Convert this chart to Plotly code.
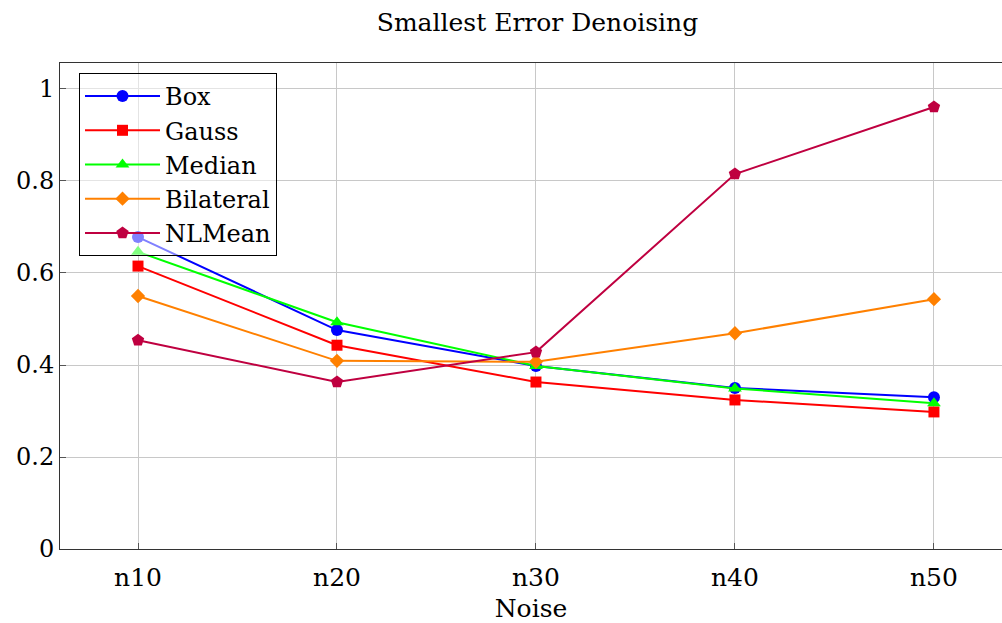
import plotly.graph_objects as go

categories = ["n10", "n20", "n30", "n40", "n50"]
box = [0.678, 0.476, 0.398, 0.350, 0.330]
gauss = [0.615, 0.443, 0.363, 0.324, 0.298]
median = [0.646, 0.493, 0.398, 0.349, 0.317]
bilateral = [0.550, 0.409, 0.407, 0.469, 0.543]
nlmean = [0.454, 0.363, 0.428, 0.815, 0.961]
y_ticks = [0, 0.2, 0.4, 0.6, 0.8, 1]
y_ticklabels = ["0", "0.2", "0.4", "0.6", "0.8", "1"]

FONT = "DejaVu Serif"

series = [
    ("Box", box, "#0000ff", "circle", 12),
    ("Gauss", gauss, "#ff0000", "square", 11),
    ("Median", median, "#00ff00", "triangle-up", 12),
    ("Bilateral", bilateral, "#ff8000", "diamond", 11),
    ("NLMean", nlmean, "#bf0040", "pentagon", 13),
]

fig = go.Figure()
for i, (name, vals, color, sym, sz) in enumerate(series):
    fig.add_trace(go.Scatter(
        x=categories, y=vals, name=name, mode="lines+markers",
        line=dict(color=color, width=2),
        marker=dict(symbol=sym, size=sz, color=color, line=dict(width=0)),
        legendgroup=f"g{i}",
    ))

fig.update_layout(
    width=1002, height=623,
    margin=dict(l=60, r=0, t=63, b=74),
    paper_bgcolor="white", plot_bgcolor="white",
    font=dict(family=FONT, size=24, color="black"),
    title=dict(text="Smallest Error Denoising", x=0.5364, xanchor="center",
               y=1 - 22 / 623, yanchor="middle", font=dict(family=FONT, size=25)),
    legend=dict(
        x=(79 - 60) / 942, y=1 - (73 - 63) / 486, xanchor="left", yanchor="top",
        bgcolor="rgba(255,255,255,0.5)", bordercolor="black", borderwidth=1,
        font=dict(family=FONT, size=24), tracegroupgap=0, itemwidth=75,
    ),
    showlegend=True,
)
fig.update_xaxes(
    type="category", categoryorder="array", categoryarray=categories,
    range=[-0.392, 4.342],
    showgrid=True, gridcolor="#c8c8c8", gridwidth=1,
    showline=True, linecolor="#333333", linewidth=1, mirror=True,
    ticks="inside", ticklen=6, tickcolor="#555555",
    ticklabelstandoff=6,
    tickfont=dict(family=FONT, size=25),
    title=dict(text="Noise", standoff=10, font=dict(family=FONT, size=25)),
    zeroline=False,
)
fig.update_yaxes(
    range=[0, 1.0565], tickvals=y_ticks, ticktext=y_ticklabels,
    showgrid=True, gridcolor="#c8c8c8", gridwidth=1,
    showline=True, linecolor="#333333", linewidth=1, mirror=True,
    ticks="inside", ticklen=6, tickcolor="#555555",
    tickfont=dict(family=FONT, size=24),
    zeroline=False,
)

fig.write_html("out.html")
